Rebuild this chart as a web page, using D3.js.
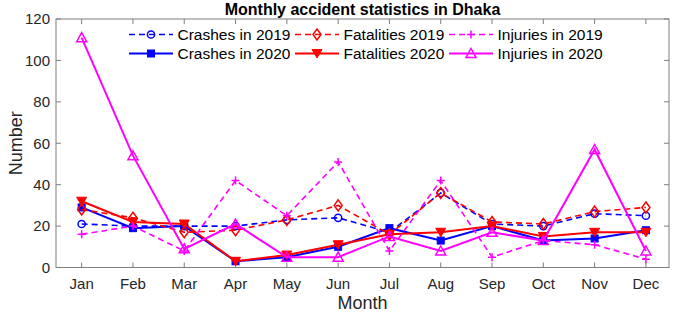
<!DOCTYPE html>
<html>
<head>
<meta charset="utf-8">
<script src="https://cdn.jsdelivr.net/npm/d3@7"></script>
<style>
body { margin: 0; background: #fff; }
text { font-family: "Liberation Sans", Arial, sans-serif; }
</style>
</head>
<body>
<div id="chart"></div>
<script>
var months = ["Jan","Feb","Mar","Apr","May","Jun","Jul","Aug","Sep","Oct","Nov","Dec"];
var yTicks = [0,20,40,60,80,100,120];

var crashes2019    = [21,20,20,20,23,24,17,36,21,20,26,25];
var crashes2020    = [29,19,20,3,5,10,19,13,20,13,14,18];
var fatalities2019 = [28,24,17,18,23,30,16,36,22,21,27,29];
var fatalities2020 = [32,22,21,3,6,11,16,17,20,15,17,17];
var injuries2019   = [16,20,8,42,25,51,8,42,5,13,11,4];
var injuries2020   = [111,54,9,21,5,5,15,8,17,13,57,8];

var series = [
  {name:"Crashes in 2019", vals:crashes2019, color:"#0000ff", dash:true, mark:"circle", row:0, col:0},
  {name:"Crashes in 2020", vals:crashes2020, color:"#0000ff", dash:false, mark:"square", row:1, col:0},
  {name:"Fatalities 2019", vals:fatalities2019, color:"#ff0000", dash:true, mark:"diamond", row:0, col:1},
  {name:"Fatalities 2020", vals:fatalities2020, color:"#ff0000", dash:false, mark:"down", row:1, col:1},
  {name:"Injuries in 2019", vals:injuries2019, color:"#ff00ff", dash:true, mark:"plus", row:0, col:2},
  {name:"Injuries in 2020", vals:injuries2020, color:"#ff00ff", dash:false, mark:"up", row:1, col:2}
];

var W = 675, H = 315;
var mLeft = 56, mRight = 669, mTop = 19, mBottom = 267.5;
var axisCol = "#7f7f7f";

var svg = d3.select("#chart").append("svg").attr("width", W).attr("height", H);

var x = d3.scaleLinear().domain([0.5, 12.45]).range([mLeft, mRight]);
var y = d3.scaleLinear().domain([0, 120]).range([mBottom, mTop]);

// box
svg.append("rect").attr("x", mLeft).attr("y", mTop).attr("width", mRight-mLeft).attr("height", mBottom-mTop)
  .attr("fill", "none").attr("stroke", axisCol).attr("stroke-width", 1);

// ticks
var tl = 5;
yTicks.forEach(function(t){
  svg.append("line").attr("x1", mLeft).attr("x2", mLeft+tl).attr("y1", y(t)).attr("y2", y(t)).attr("stroke", axisCol);
  svg.append("line").attr("x1", mRight).attr("x2", mRight-tl).attr("y1", y(t)).attr("y2", y(t)).attr("stroke", axisCol);
  svg.append("text").attr("x", mLeft-6).attr("y", y(t)).attr("dy", "0.35em").attr("text-anchor", "end")
    .attr("font-size", 15).attr("fill", "#262626").text(t);
});
months.forEach(function(m, i){
  svg.append("line").attr("x1", x(i+1)).attr("x2", x(i+1)).attr("y1", mBottom).attr("y2", mBottom-tl).attr("stroke", axisCol);
  svg.append("line").attr("x1", x(i+1)).attr("x2", x(i+1)).attr("y1", mTop).attr("y2", mTop+tl).attr("stroke", axisCol);
  svg.append("text").attr("x", x(i+1)).attr("y", 289).attr("text-anchor", "middle")
    .attr("font-size", 15).attr("fill", "#262626").text(m);
});

// labels
svg.append("text").attr("x", (mLeft+mRight)/2).attr("y", 309).attr("text-anchor", "middle")
  .attr("font-size", 18).attr("fill", "#262626").text("Month");
svg.append("text").attr("transform", "translate(22," + ((mTop+mBottom)/2) + ") rotate(-90)")
  .attr("text-anchor", "middle").attr("font-size", 18).attr("fill", "#262626").text("Number");
svg.append("text").attr("x", (mLeft+mRight)/2).attr("y", 15).attr("text-anchor", "middle")
  .attr("font-size", 16).attr("font-weight", "bold").attr("fill", "#000").text("Monthly accident statistics in Dhaka");

function drawMarker(g, s, cx, cy) {
  if (s.mark == "circle") {
    g.append("circle").attr("cx", cx).attr("cy", cy).attr("r", 3.6).attr("fill", "none").attr("stroke", s.color).attr("stroke-width", 1.5);
  } else if (s.mark == "square") {
    g.append("rect").attr("x", cx-3.5).attr("y", cy-3.5).attr("width", 7).attr("height", 7).attr("fill", s.color).attr("stroke", s.color);
  } else if (s.mark == "diamond") {
    g.append("path").attr("d", "M"+cx+","+(cy-5.5)+"L"+(cx+4)+","+cy+"L"+cx+","+(cy+5.5)+"L"+(cx-4)+","+cy+"Z")
      .attr("fill", "none").attr("stroke", s.color).attr("stroke-width", 1.5);
  } else if (s.mark == "down") {
    g.append("path").attr("d", "M"+(cx-5)+","+(cy-4)+"L"+(cx+5)+","+(cy-4)+"L"+cx+","+(cy+4.5)+"Z")
      .attr("fill", s.color).attr("stroke", s.color).attr("stroke-width", 1);
  } else if (s.mark == "up") {
    g.append("path").attr("d", "M"+(cx-5)+","+(cy+4)+"L"+(cx+5)+","+(cy+4)+"L"+cx+","+(cy-5)+"Z")
      .attr("fill", "none").attr("stroke", s.color).attr("stroke-width", 1.5);
  } else if (s.mark == "plus") {
    g.append("path").attr("d", "M"+(cx-4)+","+cy+"H"+(cx+4)+"M"+cx+","+(cy-4)+"V"+(cy+4))
      .attr("stroke", s.color).attr("stroke-width", 1.5);
  }
}

var line = d3.line().x(function(d, i){ return x(i+1); }).y(function(d){ return y(d); });

series.forEach(function(s){
  var g = svg.append("g");
  g.append("path").datum(s.vals).attr("d", line).attr("fill", "none")
    .attr("stroke", s.color).attr("stroke-width", s.dash ? 1.6 : 2)
    .attr("stroke-dasharray", s.dash ? "6,4" : null);
  s.vals.forEach(function(v, i){ drawMarker(g, s, x(i+1), y(v)); });
});

// legend
var colX = [129, 295, 449];
var rowY = [34.5, 53.5];
series.forEach(function(s){
  var g = svg.append("g");
  var lx = colX[s.col], ly = rowY[s.row];
  g.append("line").attr("x1", lx).attr("x2", lx+44).attr("y1", ly).attr("y2", ly)
    .attr("stroke", s.color).attr("stroke-width", s.dash ? 1.6 : 2)
    .attr("stroke-dasharray", s.dash ? "6,4" : null);
  drawMarker(g, s, lx+22, ly);
  g.append("text").attr("x", lx+48.5).attr("y", ly).attr("dy", "0.35em")
    .attr("font-size", 15.5).attr("fill", "#000").text(s.name);
});
</script>
</body>
</html>
